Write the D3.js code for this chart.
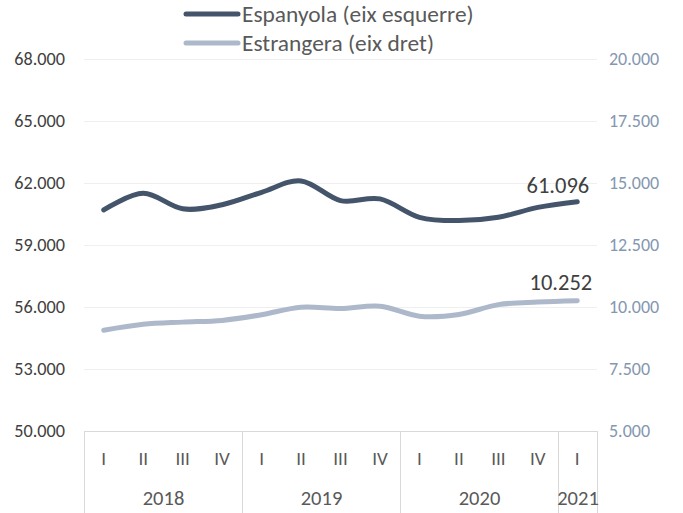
<!DOCTYPE html>
<html>
<head>
<meta charset="utf-8">
<script src="https://cdn.jsdelivr.net/npm/d3@7"></script>
<style>
  body { margin: 0; background: #fff; }
  svg text { font-family: Carlito, Lato, "Open Sans", sans-serif; }
</style>
</head>
<body>
<svg id="chart" width="683" height="513"></svg>
<script>
// data
var quarters = ["I","II","III","IV","I","II","III","IV","I","II","III","IV","I"];
var years = ["2018","2019","2020","2021"];
var yearCounts = [4, 4, 4, 1];
var espanyola = [60700, 61500, 60750, 60950, 61550, 62100, 61150, 61230, 60340, 60180, 60340, 60820, 61096];
var estrangera = [9060, 9300, 9390, 9460, 9690, 9990, 9935, 10030, 9630, 9700, 10095, 10200, 10252];
var leftTicks = [50000, 53000, 56000, 59000, 62000, 65000, 68000];
var rightTicks = [5000, 7500, 10000, 12500, 15000, 17500, 20000];
var seriesNames = ["Espanyola (eix esquerre)", "Estrangera (eix dret)"];

var svg = d3.select("#chart");
var plotLeft = 84, plotRight = 597, plotTop = 59, plotBottom = 431;
var fmt = function(v){ return d3.format(",")(v).replace(/,/g, "."); };

var x = d3.scaleBand().domain(d3.range(quarters.length)).range([plotLeft, plotRight]);
var yL = d3.scaleLinear().domain([50000, 68000]).range([plotBottom, plotTop]);
var yR = d3.scaleLinear().domain([5000, 20000]).range([plotBottom, plotTop]);

// gridlines
svg.append("g")
  .selectAll("line")
  .data(leftTicks.slice(1))
  .enter().append("line")
  .attr("x1", plotLeft).attr("x2", plotRight)
  .attr("y1", function(d){ return Math.round(yL(d)) + 0.5; })
  .attr("y2", function(d){ return Math.round(yL(d)) + 0.5; })
  .attr("stroke", "#efefef").attr("stroke-width", 1);

// left axis labels
svg.append("g")
  .selectAll("text")
  .data(leftTicks)
  .enter().append("text")
  .attr("x", 65)
  .attr("y", function(d){ return yL(d); })
  .attr("dy", "0.35em")
  .attr("text-anchor", "end")
  .attr("font-size", 18.2)
  .attr("fill", "#404040")
  .text(fmt);

// right axis labels
svg.append("g")
  .selectAll("text")
  .data(rightTicks)
  .enter().append("text")
  .attr("x", 609)
  .attr("y", function(d){ return yR(d); })
  .attr("dy", "0.35em")
  .attr("text-anchor", "start")
  .attr("font-size", 18)
  .attr("fill", "#8497B0")
  .text(fmt);

// category axis box
var axisG = svg.append("g");
axisG.append("line")
  .attr("x1", plotLeft).attr("x2", plotRight)
  .attr("y1", plotBottom + 0.5).attr("y2", plotBottom + 0.5)
  .attr("stroke", "#d9d9d9");
var edges = [0];
yearCounts.forEach(function(c, i){ edges.push(edges[i] + c); });
var edgeX = function(d){ return Math.round(d < quarters.length ? x(d) : plotRight) + 0.5; };
axisG.selectAll("line.sep")
  .data(edges)
  .enter().append("line")
  .attr("class", "sep")
  .attr("x1", edgeX)
  .attr("x2", edgeX)
  .attr("y1", plotBottom).attr("y2", 513)
  .attr("stroke", "#d9d9d9");
axisG.selectAll("text.q")
  .data(quarters)
  .enter().append("text")
  .attr("class", "q")
  .attr("x", function(d, i){ return x(i) + x.bandwidth() / 2; })
  .attr("y", 458)
  .attr("dy", "0.35em")
  .attr("text-anchor", "middle")
  .attr("font-size", 19)
  .attr("fill", "#595959")
  .text(function(d){ return d; });
axisG.selectAll("text.yr")
  .data(years)
  .enter().append("text")
  .attr("class", "yr")
  .attr("x", function(d, i){ return (edgeX(edges[i]) + edgeX(edges[i + 1])) / 2; })
  .attr("y", 498)
  .attr("dy", "0.35em")
  .attr("text-anchor", "middle")
  .attr("font-size", 20.5)
  .attr("fill", "#595959")
  .text(function(d){ return d; });

// lines
var cx = function(d, i){ return x(i) + x.bandwidth() / 2; };
var lineL = d3.line().x(cx).y(function(d){ return yL(d); }).curve(d3.curveCardinal.tension(0));
var lineR = d3.line().x(cx).y(function(d){ return yR(d); }).curve(d3.curveCardinal.tension(0));

svg.append("path")
  .datum(estrangera)
  .attr("d", lineR)
  .attr("fill", "none")
  .attr("stroke", "#ADB9CA")
  .attr("stroke-width", 5)
  .attr("stroke-linecap", "round");

svg.append("path")
  .datum(espanyola)
  .attr("d", lineL)
  .attr("fill", "none")
  .attr("stroke", "#44546A")
  .attr("stroke-width", 5)
  .attr("stroke-linecap", "round");

// end labels
var last = quarters.length - 1;
svg.append("text")
  .attr("x", cx(null, last) + 12)
  .attr("y", yL(espanyola[last]) - 9)
  .attr("text-anchor", "end")
  .attr("font-size", 22.5)
  .attr("fill", "#404040")
  .text(fmt(espanyola[last]));
svg.append("text")
  .attr("x", cx(null, last) + 15)
  .attr("y", yR(estrangera[last]) - 11)
  .attr("text-anchor", "end")
  .attr("font-size", 22.5)
  .attr("fill", "#404040")
  .text(fmt(estrangera[last]));

// legend
var legendColors = ["#44546A", "#ADB9CA"];
var leg = svg.append("g");
seriesNames.forEach(function(name, i){
  var ly = 14 + i * 29;
  leg.append("line")
    .attr("x1", 186).attr("x2", 238)
    .attr("y1", ly).attr("y2", ly)
    .attr("stroke", legendColors[i])
    .attr("stroke-width", 5)
    .attr("stroke-linecap", "round");
  leg.append("text")
    .attr("x", 242)
    .attr("y", ly)
    .attr("dy", "0.35em")
    .attr("font-size", 23.4)
    .attr("fill", "#595959")
    .text(name);
});
</script>
</body>
</html>
